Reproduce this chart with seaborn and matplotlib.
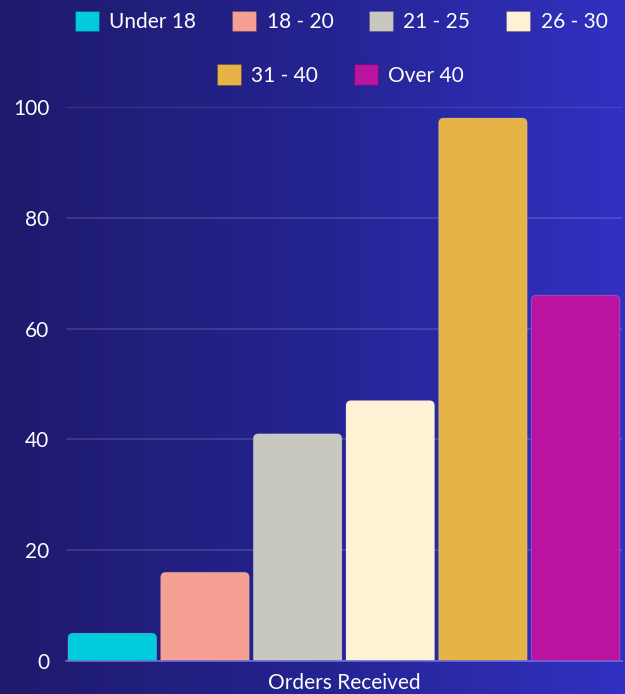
import numpy as np
import pandas as pd
import matplotlib
matplotlib.use("Agg")
import matplotlib.pyplot as plt
from matplotlib.patches import FancyBboxPatch
from matplotlib.colors import LinearSegmentedColormap
import seaborn as sns

# Data
age_groups = ["Under 18", "18 - 20", "21 - 25", "26 - 30", "31 - 40", "Over 40"]
orders = [5, 16, 41, 47, 98, 66]
category = ["Orders Received"] * len(age_groups)
bar_colors = ["#00CBDA", "#F5A093", "#C8C8C0", "#FFF1D3", "#E6B347", "#B9139F"]
y_ticks = [0, 20, 40, 60, 80, 100]

df = pd.DataFrame({"category": category, "age": age_groups, "orders": orders})

sns.set_theme(style="white")
plt.rcParams["font.family"] = ["Lato", "DejaVu Sans"]

fig = plt.figure(figsize=(6.25, 6.94), dpi=100)

# Horizontal gradient background
bg = fig.add_axes([0, 0, 1, 1], zorder=-10)
grad = LinearSegmentedColormap.from_list("bg", ["#1e1a6c", "#25238f", "#3131c2"])
bg.imshow(np.linspace(0, 1, 256).reshape(1, -1), aspect="auto", cmap=grad,
          extent=[0, 1, 0, 1])
bg.set_axis_off()

ax = fig.add_axes([0.1056, 0.0476, 0.8894, 0.7982])
ax.patch.set_alpha(0)

sns.barplot(data=df, x="category", y="orders", hue="age", hue_order=age_groups,
            palette=bar_colors, width=1.0, gap=0.045, saturation=1, ax=ax)

handles, labels = ax.get_legend_handles_labels()
if ax.get_legend() is not None:
    ax.get_legend().remove()
for h in handles:
    h.set_edgecolor((0, 0, 0, 0.15))
    h.set_linewidth(0.8)

ax.set_xlim(-0.5, 0.5)
ax.set_ylim(0, 100)
ax.set_yticks(y_ticks)
ax.set_xlabel("")
ax.set_ylabel("")
ax.grid(axis="y", color="white", alpha=0.15, linewidth=1.2)
ax.set_axisbelow(True)
for side in ["left", "right", "top"]:
    ax.spines[side].set_visible(False)
ax.spines["bottom"].set_color("#6b6bd6")
ax.spines["bottom"].set_linewidth(1.2)
ax.tick_params(axis="both", length=0, colors="white", labelsize=15)
ax.tick_params(axis="y", pad=12)
ax.tick_params(axis="x", pad=9)

# Round the top corners of each bar
fig.canvas.draw()
p0 = ax.transData.transform((0, 0))
p1 = ax.transData.transform((1, 1))
px_x = 1.0 / (p1[0] - p0[0])
px_y = 1.0 / (p1[1] - p0[1])
radius_px = 5
rx = radius_px * px_x
aspect = px_y / px_x
for bar in list(ax.patches):
    x, w, h = bar.get_x(), bar.get_width(), bar.get_height()
    fc = bar.get_facecolor()
    bar.remove()
    ry = radius_px * px_y
    fb = FancyBboxPatch((x, -ry * 2), w, h + ry * 2,
                        boxstyle=f"round,pad=0,rounding_size={rx}",
                        mutation_aspect=aspect, facecolor=fc,
                        edgecolor=(1, 1, 1, 0.25), linewidth=0.6, zorder=2)
    ax.add_patch(fb)

# Two centered legend rows
leg_kw = dict(frameon=False, fontsize=15, handlelength=1.15, handleheight=1.15,
              handletextpad=0.5, columnspacing=1.72, labelcolor="white",
              loc="center")
leg1 = fig.legend(handles[:4], labels[:4], ncol=4,
                  bbox_to_anchor=(0.546, 0.969), **leg_kw)
leg2 = fig.legend(handles[4:], labels[4:], ncol=2,
                  bbox_to_anchor=(0.545, 0.892), **leg_kw)

fig.savefig("out.png", dpi=100)
